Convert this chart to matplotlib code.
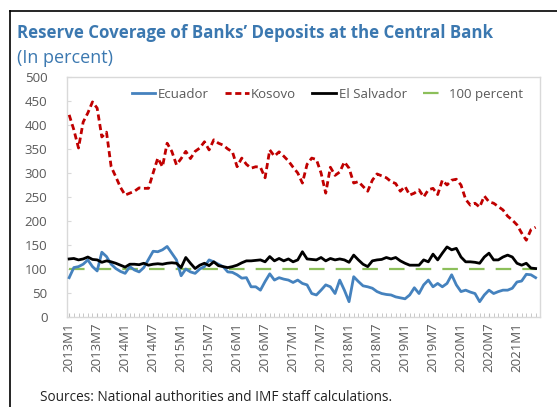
import numpy as np
import matplotlib.pyplot as plt
from matplotlib.lines import Line2D
from matplotlib.ticker import MultipleLocator

plt.rcParams['font.family'] = ['Open Sans', 'DejaVu Sans']

# monthly, 2013M1 .. 2021M5
months = [f"{2013 + k // 12}M{k % 12 + 1}" for k in range(101)]

ecuador = [82, 103, 105, 110, 119, 105, 96, 135, 126, 110,
           101, 95, 91, 105, 98, 94, 103, 120, 137, 136,
           140, 147, 133, 119, 86, 100, 94, 91, 100, 105,
           119, 115, 110, 105, 94, 93, 88, 81, 82, 63,
           63, 56, 74, 90, 77, 82, 79, 77, 72, 77,
           70, 67, 49, 46, 56, 67, 63, 49, 77, 56,
           32, 84, 74, 65, 63, 60, 53, 49, 47, 46,
           42, 40, 38, 46, 61, 49, 67, 77, 63, 70,
           63, 70, 88, 67, 53, 56, 52, 49, 32, 46,
           56, 49, 53, 56, 56, 60, 73, 75, 89, 88,
           82]

kosovo = [421, 390, 352, 406, 425, 448, 435, 375, 385, 313,
          292, 270, 254, 258, 262, 269, 268, 268, 300, 331,
          313, 362, 345, 317, 330, 345, 330, 345, 352, 365,
          348, 369, 362, 358, 350, 344, 313, 331, 318, 310,
          313, 312, 290, 348, 335, 344, 335, 325, 312, 300,
          279, 318, 331, 328, 300, 258, 312, 295, 302, 323,
          310, 279, 282, 272, 262, 285, 298, 294, 290, 282,
          278, 262, 272, 254, 258, 265, 250, 265, 268, 255,
          285, 275, 285, 287, 275, 245, 233, 237, 229, 252,
          240, 237, 230, 223, 210, 202, 192, 175, 160, 182,
          187]

el_salvador = [121, 122, 119, 121, 125, 120, 119, 114, 117, 115,
               112, 108, 104, 110, 110, 109, 112, 108, 110, 111,
               110, 112, 113, 112, 103, 124, 112, 101, 108, 112,
               107, 115, 107, 105, 103, 105, 108, 113, 117, 117,
               118, 119, 115, 126, 117, 122, 117, 121, 115, 119,
               136, 121, 120, 119, 124, 117, 122, 119, 121, 119,
               114, 129, 119, 110, 105, 117, 119, 120, 124, 121,
               124, 117, 112, 108, 108, 108, 119, 115, 131, 119,
               133, 146, 140, 143, 125, 115, 115, 114, 112, 125,
               133, 119, 119, 125, 129, 125, 112, 108, 112, 102,
               101]

threshold = [100] * len(months)

x = np.arange(len(months))

fig = plt.figure(figsize=(5.57, 4.07), dpi=100)
ax = fig.add_axes([0.120, 0.221, 0.850, 0.590])

ax.plot(x, ecuador, color="#4582BE", lw=2, label="Ecuador", zorder=4)
ax.plot(x, kosovo, color="#C00000", lw=2, ls=(0, (2.2, 1.3)), label="Kosovo", zorder=4)
ax.plot(x, el_salvador, color="black", lw=2, label="El Salvador", zorder=5)
ax.plot(x, threshold, color="#8CBF5A", lw=1.6, ls=(0, (7, 5)), label="100 percent", zorder=3)

ax.set_xlim(-0.5, 101)
ax.set_ylim(0, 500)
ax.yaxis.set_major_locator(MultipleLocator(50))
ax.set_xticks(x[::6])
ax.set_xticklabels(months[::6], rotation=90)
ax.xaxis.set_minor_locator(MultipleLocator(1))

for s in ax.spines.values():
    s.set_color("#D9D9D9")
    s.set_linewidth(1)
ax.tick_params(axis="y", colors="#D9D9D9", labelcolor="#595959", labelsize=9.5,
               direction="in", length=3, pad=14)
ax.tick_params(axis="x", which="both", colors="#BFBFBF", labelcolor="#595959",
               labelsize=9.5, direction="in", length=3, pad=4)

ax.legend(loc="upper center", bbox_to_anchor=(0.55, 1.005), ncol=4, frameon=False,
          fontsize=9.5, handlelength=1.8, handletextpad=0.2, columnspacing=1.2,
          labelcolor="#595959")

fig.text(0.031, 0.918, "Reserve Coverage of Banks\u2019 Deposits at the Central Bank",
         fontsize=12.2, fontweight="bold", color="#3B78B0", va="center")
fig.text(0.031, 0.857, "(In percent)", fontsize=13, color="#3B78B0", va="center")
fig.text(0.072, 0.004, "Sources: National authorities and IMF staff calculations.",
         fontsize=9.8, color="#222222", va="bottom")

# outer frame of the panel
fig.add_artist(Line2D([0.018, 0.018], [0, 0.972], color="black", lw=1.2))
fig.add_artist(Line2D([0.018, 1.0], [0.972, 0.972], color="black", lw=1.2))

fig.savefig("out.png", dpi=100)
